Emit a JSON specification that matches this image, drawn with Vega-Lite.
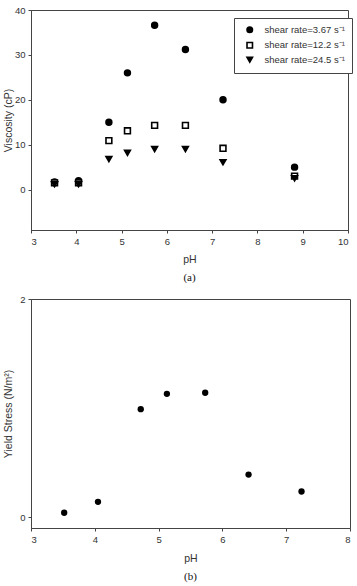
{
  "$schema": "https://vega.github.io/schema/vega-lite/v6.json",
  "padding": {"left": 2, "top": 4, "right": 0, "bottom": 2},
  "spacing": 9,
  "config": {
    "font": "Liberation Sans",
    "view": {"stroke": "#444", "strokeWidth": 1},
    "axis": {
      "grid": false,
      "domainColor": "#444",
      "tickColor": "#444",
      "tickSize": 3,
      "labelFont": "Liberation Sans",
      "labelFontSize": 9.5,
      "labelColor": "#333",
      "labelPadding": 3,
      "titleFont": "Liberation Sans",
      "titleFontSize": 10.5,
      "titleFontWeight": "normal",
      "titleColor": "#333"
    },
    "title": {
      "orient": "bottom",
      "font": "Liberation Serif",
      "fontSize": 11,
      "fontWeight": "normal",
      "color": "#111",
      "offset": 7
    }
  },
  "vconcat": [
    {
      "title": "(a)",
      "width": 317,
      "height": 220,
      "data": {
        "values": [
          {"pH": 3.52, "viscosity": 1.7, "series": "shear rate=3.67 s⁻¹"},
          {"pH": 4.05, "viscosity": 2.0, "series": "shear rate=3.67 s⁻¹"},
          {"pH": 4.72, "viscosity": 15.0, "series": "shear rate=3.67 s⁻¹"},
          {"pH": 5.13, "viscosity": 26.0, "series": "shear rate=3.67 s⁻¹"},
          {"pH": 5.73, "viscosity": 36.6, "series": "shear rate=3.67 s⁻¹"},
          {"pH": 6.41, "viscosity": 31.2, "series": "shear rate=3.67 s⁻¹"},
          {"pH": 7.24, "viscosity": 20.0, "series": "shear rate=3.67 s⁻¹"},
          {"pH": 8.82, "viscosity": 5.0, "series": "shear rate=3.67 s⁻¹"},
          {"pH": 3.52, "viscosity": 1.5, "series": "shear rate=12.2 s⁻¹"},
          {"pH": 4.05, "viscosity": 1.5, "series": "shear rate=12.2 s⁻¹"},
          {"pH": 4.72, "viscosity": 10.9, "series": "shear rate=12.2 s⁻¹"},
          {"pH": 5.13, "viscosity": 13.1, "series": "shear rate=12.2 s⁻¹"},
          {"pH": 5.73, "viscosity": 14.3, "series": "shear rate=12.2 s⁻¹"},
          {"pH": 6.41, "viscosity": 14.3, "series": "shear rate=12.2 s⁻¹"},
          {"pH": 7.24, "viscosity": 9.2, "series": "shear rate=12.2 s⁻¹"},
          {"pH": 8.82, "viscosity": 3.0, "series": "shear rate=12.2 s⁻¹"},
          {"pH": 3.52, "viscosity": 1.2, "series": "shear rate=24.5 s⁻¹"},
          {"pH": 4.05, "viscosity": 1.2, "series": "shear rate=24.5 s⁻¹"},
          {"pH": 4.72, "viscosity": 6.8, "series": "shear rate=24.5 s⁻¹"},
          {"pH": 5.13, "viscosity": 8.2, "series": "shear rate=24.5 s⁻¹"},
          {"pH": 5.73, "viscosity": 9.0, "series": "shear rate=24.5 s⁻¹"},
          {"pH": 6.41, "viscosity": 9.0, "series": "shear rate=24.5 s⁻¹"},
          {"pH": 7.24, "viscosity": 6.1, "series": "shear rate=24.5 s⁻¹"},
          {"pH": 8.82, "viscosity": 2.5, "series": "shear rate=24.5 s⁻¹"}
        ]
      },
      "mark": {"type": "point", "filled": false, "stroke": "black", "strokeWidth": 1.6, "opacity": 1, "size": 34},
      "encoding": {
        "x": {
          "field": "pH", "type": "quantitative", "title": "pH",
          "scale": {"domain": [3, 10], "nice": false, "zero": false},
          "axis": {"values": [3, 4, 5, 6, 7, 8, 9, 10], "format": "d", "titlePadding": 9}
        },
        "y": {
          "field": "viscosity", "type": "quantitative", "title": "Viscosity (cP)",
          "scale": {"domain": [-9, 40], "nice": false, "zero": false},
          "axis": {"values": [0, 10, 20, 30, 40], "format": "d", "titlePadding": 1}
        },
        "shape": {
          "field": "series", "type": "nominal", "title": null,
          "scale": {
            "domain": ["shear rate=3.67 s⁻¹", "shear rate=12.2 s⁻¹", "shear rate=24.5 s⁻¹"],
            "range": ["circle", "square", "triangle-down"]
          }
        },
        "fill": {
          "field": "series", "type": "nominal", "title": null,
          "scale": {
            "domain": ["shear rate=3.67 s⁻¹", "shear rate=12.2 s⁻¹", "shear rate=24.5 s⁻¹"],
            "range": ["black", "white", "black"]
          },
          "legend": {
            "orient": "none",
            "legendX": 203,
            "legendY": 8,
            "strokeColor": "#444",
            "fillColor": "white",
            "padding": 7,
            "rowPadding": 2.5,
            "symbolOffset": 4,
            "symbolSize": 30,
            "symbolStrokeColor": "black",
            "symbolStrokeWidth": 1.6,
            "labelOffset": 10,
            "labelFont": "Liberation Sans",
            "labelFontSize": 9.5,
            "labelColor": "#333"
          }
        }
      }
    },
    {
      "title": "(b)",
      "width": 319,
      "height": 229,
      "data": {
        "values": [
          {"pH": 3.52, "yield": 0.04},
          {"pH": 4.05, "yield": 0.14},
          {"pH": 4.72, "yield": 0.99},
          {"pH": 5.13, "yield": 1.13},
          {"pH": 5.73, "yield": 1.14},
          {"pH": 6.41, "yield": 0.39},
          {"pH": 7.24, "yield": 0.235}
        ]
      },
      "mark": {"type": "point", "filled": true, "color": "black", "size": 40, "opacity": 1, "shape": "circle"},
      "encoding": {
        "x": {
          "field": "pH", "type": "quantitative", "title": "pH",
          "scale": {"domain": [3, 8], "nice": false, "zero": false},
          "axis": {"values": [3, 4, 5, 6, 7, 8], "format": "d", "titlePadding": 10}
        },
        "y": {
          "field": "yield", "type": "quantitative", "title": "Yield Stress (N/m²)",
          "scale": {"domain": [-0.1, 2], "nice": false, "zero": false},
          "axis": {"values": [0, 1, 2], "format": "d", "titlePadding": 6}
        }
      }
    }
  ]
}
